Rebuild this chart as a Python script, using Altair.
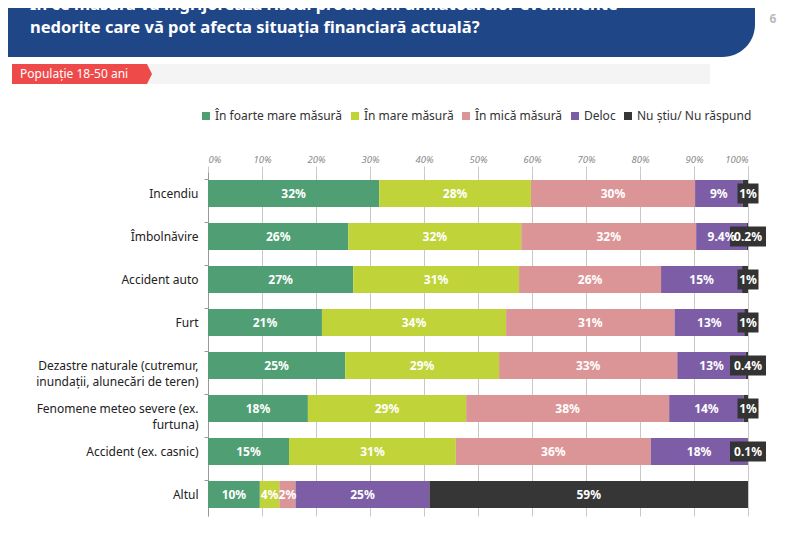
import altair as alt
import pandas as pd

categories = [
    "Incendiu",
    "Îmbolnăvire",
    "Accident auto",
    "Furt",
    "Dezastre naturale (cutremur,|inundații, alunecări de teren)",
    "Fenomene meteo severe (ex.|furtuna)",
    "Accident (ex. casnic)",
    "Altul",
]
series = ["În foarte mare măsură", "În mare măsură", "În mică măsură", "Deloc", "Nu știu/ Nu răspund"]
colors = ["#4f9e74", "#c0d43a", "#dc9597", "#7d5ea6", "#363636"]

foarte_mare = [31.7, 26.0, 26.9, 21.1, 25.4, 18.5, 15.0, 9.6]
mare = [28.1, 32.0, 30.7, 34.1, 28.5, 29.3, 30.9, 3.6]
mica = [30.4, 32.4, 26.3, 31.2, 33.0, 37.6, 36.1, 3.0]
deloc = [8.8, 9.4, 15.0, 12.9, 12.7, 13.8, 17.9, 24.8]
nu_stiu = [1.0, 0.2, 1.1, 0.7, 0.4, 0.8, 0.1, 59.0]

lab_foarte_mare = ["32%", "26%", "27%", "21%", "25%", "18%", "15%", "10%"]
lab_mare = ["28%", "32%", "31%", "34%", "29%", "29%", "31%", "4%"]
lab_mica = ["30%", "32%", "26%", "31%", "33%", "38%", "36%", "2%"]
lab_deloc = ["9%", "9.4%", "15%", "13%", "13%", "14%", "18%", "25%"]
lab_nu_stiu = ["1%", "0.2%", "1%", "1%", "0.4%", "1%", "0.1%", "59%"]

values = [foarte_mare, mare, mica, deloc, nu_stiu]
labels = [lab_foarte_mare, lab_mare, lab_mica, lab_deloc, lab_nu_stiu]

rows = []
for i, c in enumerate(categories):
    cum = 0.0
    for j, s in enumerate(series):
        v = values[j][i]
        small_black = (j == 4 and v < 5)
        lx = 100.0 if small_black else cum + v / 2
        hw = (len(labels[j][i]) * 7.5 + 6) / 2 / 5.4
        rows.append(dict(cat=c, ser=s, v=v, start=cum, end=cum + v, lx=lx,
                         lab=labels[j][i], order=j, boxed=small_black,
                         b0=lx - hw, b1=lx + hw))
        cum += v
df = pd.DataFrame(rows)
one = pd.DataFrame({"k": [0]})

FONT = "Noto Sans"

yenc = alt.Y("cat:N", sort=categories,
             scale=alt.Scale(paddingInner=0.37, paddingOuter=0.185),
             axis=alt.Axis(title=None, labelExpr="split(datum.label, '|')",
                           bandPosition=0, tickSize=4, tickColor="#999",
                           domainColor="#999", labelFont=FONT, labelFontSize=12,
                           labelColor="#222", labelPadding=6, labelLimit=300,
                           labelLineHeight=16))

bars = alt.Chart(df).mark_bar().encode(
    x=alt.X("start:Q", scale=alt.Scale(domain=[0, 100]),
            axis=alt.Axis(orient="top", title=None, values=list(range(0, 101, 10)),
                          labelExpr="datum.value + '%'", grid=True, gridColor="#c8c8c8",
                          domain=False, tickSize=6, tickColor="#c8c8c8",
                          labelFont=FONT, labelFontSize=9.5, labelFontStyle="italic",
                          labelColor="#888", labelPadding=2)),
    x2="end:Q",
    y=yenc,
    color=alt.Color("ser:N", scale=alt.Scale(domain=series, range=colors),
                    legend=alt.Legend(title=None, orient="none", legendX=-8, legendY=-62,
                                      direction="horizontal", symbolType="square",
                                      symbolSize=64, symbolStrokeWidth=0,
                                      labelFont=FONT, labelFontSize=12, labelColor="#333",
                                      columnPadding=6, labelOffset=3)),
    order=alt.Order("order:Q"),
)

boxes = alt.Chart(df).transform_filter("datum.boxed").mark_bar(height=20, color="#333333").encode(
    x="b0:Q", x2="b1:Q", y=alt.Y("cat:N", sort=categories)
)

texts = alt.Chart(df).mark_text(font=FONT, fontSize=12, fontWeight="bold", color="white").encode(
    x="lx:Q", y=alt.Y("cat:N", sort=categories), text="lab:N"
)

hdr = alt.Chart(one).mark_rect(color="#1f4788", cornerRadiusBottomRight=42).encode(
    x=alt.value(-200), x2=alt.value(547), y=alt.value(-180), y2=alt.value(-115))
t1 = alt.Chart(one).mark_text(text="În ce măsură vă îngrijorează riscul producerii următoarelor evenimente",
                              font=FONT, fontSize=16.5, fontWeight="bold", color="white",
                              align="left", baseline="alphabetic").encode(
    x=alt.value(-178), y=alt.value(-162))
t2 = alt.Chart(one).mark_text(text="nedorite care vă pot afecta situația financiară actuală?",
                              font=FONT, fontSize=16.5, fontWeight="bold", color="white",
                              align="left", baseline="alphabetic").encode(
    x=alt.value(-178), y=alt.value(-139))
pg = alt.Chart(one).mark_text(text="6", font=FONT, fontSize=12, fontWeight="bold", color="#bbbbbb").encode(
    x=alt.value(565), y=alt.value(-153))
tagbg = alt.Chart(one).mark_rect(color="#f4f4f4").encode(
    x=alt.value(-196), x2=alt.value(502), y=alt.value(-108), y2=alt.value(-88))
tag = alt.Chart(one).mark_rect(color="#ef4a4a").encode(
    x=alt.value(-196), x2=alt.value(-66), y=alt.value(-108), y2=alt.value(-88))
tagpt = alt.Chart(one).mark_point(shape="M-1,-1L0.5,-1L1,0L0.5,1L-1,1Z", filled=True, opacity=1,
                                  color="#ef4a4a", size=400).encode(
    x=alt.value(-66), y=alt.value(-98))
tagtxt = alt.Chart(one).mark_text(text="Populație 18-50 ani", font=FONT, fontSize=12, color="white",
                                  align="left", baseline="middle").encode(
    x=alt.value(-188), y=alt.value(-98))

chart = alt.layer(hdr, t1, t2, pg, tagbg, tag, tagpt, tagtxt, bars, boxes, texts).properties(
    width=540, height=344,
    autosize=alt.AutoSizeParams(type="none"),
    padding={"left": 200, "top": 164, "right": 41, "bottom": 9},
).configure_view(stroke=None).resolve_scale(y="shared")

chart.save("out.html", embed_options={"renderer": "svg", "actions": False})
